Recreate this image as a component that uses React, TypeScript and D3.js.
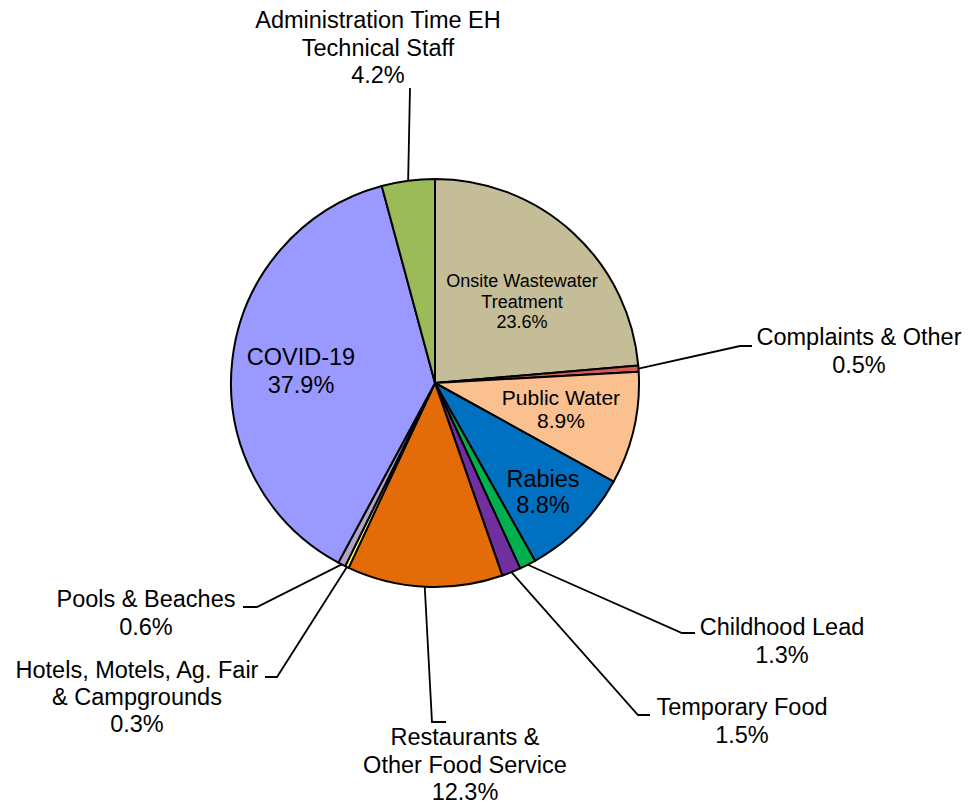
import * as d3 from "d3";

const WIDTH = 971;
const HEIGHT = 804;
const CX = 435;
const CY = 383;
const RADIUS = 204;

// slices, clockwise from 12 o'clock
const categories = [
  "Onsite Wastewater\nTreatment",
  "Complaints & Other",
  "Public Water",
  "Rabies",
  "Childhood Lead",
  "Temporary Food",
  "Restaurants &\nOther Food Service",
  "Hotels, Motels, Ag. Fair\n& Campgrounds",
  "Pools & Beaches",
  "COVID-19",
  "Administration Time EH\nTechnical Staff",
];
const values = [23.6, 0.5, 8.9, 8.8, 1.3, 1.5, 12.3, 0.3, 0.6, 37.9, 4.2];
const colors = [
  "#C4BD97",
  "#D55B57",
  "#FAC090",
  "#0070C0",
  "#00B050",
  "#7030A0",
  "#E36C09",
  "#FFFF66",
  "#B3A2C7",
  "#9999FF",
  "#9BBB59",
];

// label placement (centre x, first baseline, font size, line step, leader elbow / end)
type Layout = {
  x: number;
  y: number;
  size: number;
  step: number;
  elbow?: [number, number];
  end?: [number, number];
};
const layout: Layout[] = [
  { x: 522, y: 287, size: 18, step: 20.5 },
  { x: 859, y: 345, size: 23.5, step: 27.5, elbow: [740, 346], end: [752, 346] },
  { x: 561, y: 405, size: 21, step: 23 },
  { x: 543, y: 487, size: 23.5, step: 26 },
  { x: 782, y: 635, size: 23.5, step: 28, elbow: [682, 633], end: [695, 633] },
  { x: 742, y: 715, size: 23.5, step: 27.5, elbow: [638, 715], end: [650, 715] },
  { x: 465, y: 745, size: 23.5, step: 27.5, elbow: [432, 722], end: [446, 722] },
  { x: 137, y: 678, size: 23.5, step: 27, elbow: [277, 677], end: [265, 677] },
  { x: 146, y: 607, size: 23.5, step: 28, elbow: [257, 607], end: [243, 607] },
  { x: 301, y: 365, size: 23.5, step: 28 },
  { x: 378, y: 28, size: 23.5, step: 27.5, elbow: [410, 88] },
];

const data = categories.map((name, i) => ({ name, value: values[i], color: colors[i], i }));

export default function App() {
  const pie = d3
    .pie<(typeof data)[number]>()
    .value((d) => d.value)
    .sort(null)
    .startAngle(0)
    .endAngle(2 * Math.PI);
  const arcs = pie(data);
  const arc = d3
    .arc<d3.PieArcDatum<(typeof data)[number]>>()
    .innerRadius(0)
    .outerRadius(RADIUS);

  return (
    <svg
      width={WIDTH}
      height={HEIGHT}
      style={{ display: "block", position: "absolute", left: 0, top: 0 }}
      fontFamily="Arial, 'Liberation Sans', sans-serif"
    >
      <rect width={WIDTH} height={HEIGHT} fill="#fff" />
      <g transform={`translate(${CX},${CY})`}>
        {arcs.map((a) => (
          <path
            key={a.data.name}
            d={arc(a) || ""}
            fill={a.data.color}
            stroke="#000"
            strokeWidth={2}
            strokeLinejoin="round"
          />
        ))}
      </g>
      {/* leader lines */}
      {arcs.map((a) => {
        const l = layout[a.data.i];
        if (!l.elbow) return null;
        const mid = (a.startAngle + a.endAngle) / 2;
        const sx = CX + RADIUS * Math.sin(mid);
        const sy = CY - RADIUS * Math.cos(mid);
        const pts: [number, number][] = [[sx, sy], l.elbow];
        if (l.end) pts.push(l.end);
        return (
          <path
            key={"l" + a.data.name}
            d={d3.line()(pts) || ""}
            fill="none"
            stroke="#000"
            strokeWidth={1.8}
          />
        );
      })}
      {/* labels */}
      {data.map((d) => {
        const l = layout[d.i];
        const lines = [...d.name.split("\n"), d3.format(".1f")(d.value) + "%"];
        return (
          <text
            key={"t" + d.name}
            x={l.x}
            y={l.y}
            fontSize={l.size}
            textAnchor="middle"
            fill="#000"
          >
            {lines.map((t, k) => (
              <tspan key={k} x={l.x} y={l.y + k * l.step}>
                {t}
              </tspan>
            ))}
          </text>
        );
      })}
    </svg>
  );
}
